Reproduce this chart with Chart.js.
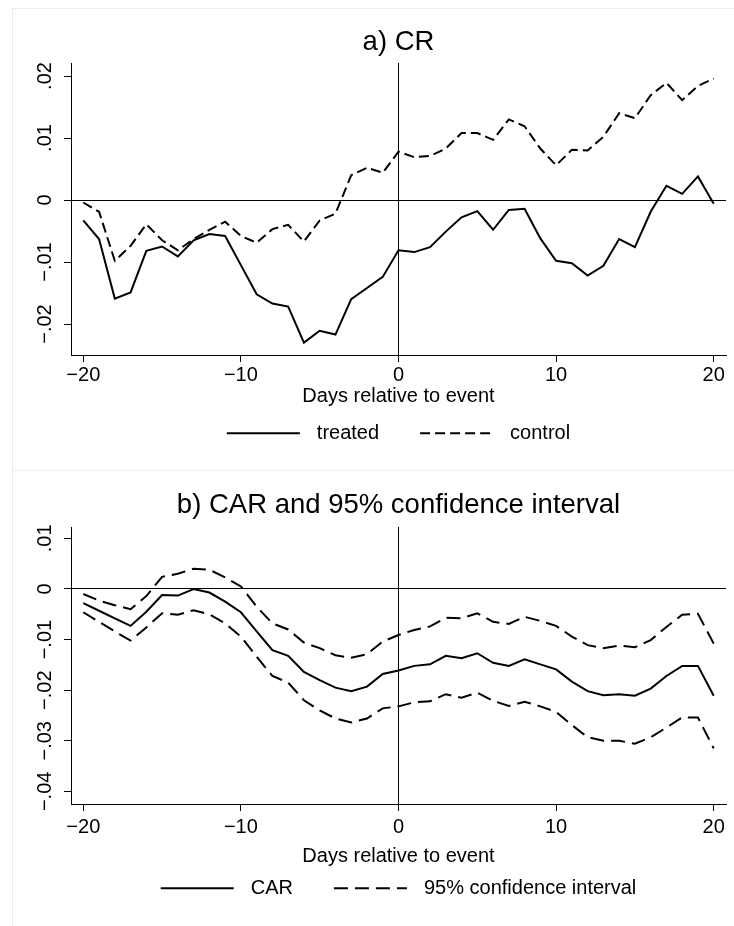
<!DOCTYPE html>
<html>
<head>
<meta charset="utf-8">
<script src="https://cdn.jsdelivr.net/npm/chart.js@4.4.0/dist/chart.umd.min.js"></script>
<style>
  html, body { margin: 0; padding: 0; background: #fff; }
  body { width: 734px; height: 926px; position: relative; overflow: hidden; }
  .frame { position: absolute; border: 1px solid #e5eef1; box-sizing: border-box; }
  .wrap { position: absolute; left: 0; width: 734px; }
  canvas { display: block; }
</style>
</head>
<body>
<div class="frame" style="left:12px; top:8px; width:760px; height:463px;"></div>
<div class="frame" style="left:12px; top:470px; width:760px; height:480px;"></div>
<div class="wrap" style="top:0; height:470px;"><canvas id="chartA"></canvas></div>
<div class="wrap" style="top:470px; height:456px;"><canvas id="chartB"></canvas></div>
<script>
// days relative to event
const days = [-20, -19, -18, -17, -16, -15, -14, -13, -12, -11, -10, -9, -8, -7, -6, -5, -4, -3, -2, -1,
  0, 1, 2, 3, 4, 5, 6, 7, 8, 9, 10, 11, 12, 13, 14, 15, 16, 17, 18, 19, 20]

// a) CR
const treated = [-0.0033, -0.0063, -0.0159, -0.0149, -0.0082, -0.0075, -0.0091, -0.0065, -0.0055, -0.0058,
  -0.0105, -0.0152, -0.0167, -0.0172, -0.0230, -0.0211, -0.0217, -0.0160, -0.0142, -0.0124,
  -0.0081, -0.0084, -0.0076, -0.0051, -0.0028, -0.0018, -0.0048, -0.0016, -0.0014, -0.0062,
  -0.0098, -0.0102, -0.0122, -0.0106, -0.0063, -0.0076, -0.0019, 0.0023, 0.0010, 0.0038, -0.0006]
const control = [-0.0004, -0.0019, -0.0098, -0.0074, -0.0039, -0.0065, -0.0081, -0.0063, -0.0048, -0.0035,
  -0.0058, -0.0069, -0.0047, -0.0040, -0.0067, -0.0033, -0.0022, 0.0040, 0.0052, 0.0044,
  0.0078, 0.0069, 0.0071, 0.0083, 0.0108, 0.0108, 0.0097, 0.0130, 0.0119, 0.0083,
  0.0056, 0.0081, 0.0080, 0.0102, 0.0140, 0.0132, 0.0169, 0.0189, 0.0161, 0.0184, 0.0196]

// b) CAR and 95% confidence interval
const car = [-0.0028, -0.0043, -0.0058, -0.0073, -0.0045, -0.0012, -0.0013, 0.0000, -0.0007, -0.0025,
  -0.0046, -0.0084, -0.0121, -0.0132, -0.0164, -0.0180, -0.0195, -0.0202, -0.0193, -0.0168,
  -0.0161, -0.0152, -0.0149, -0.0132, -0.0137, -0.0127, -0.0146, -0.0152, -0.0139, -0.0149,
  -0.0159, -0.0183, -0.0202, -0.0210, -0.0208, -0.0211, -0.0197, -0.0172, -0.0152, -0.0152, -0.0211]
const ciUpper = [-0.0010, -0.0023, -0.0032, -0.0040, -0.0014, 0.0024, 0.0030, 0.0040, 0.0038, 0.0023,
  0.0005, -0.0035, -0.0068, -0.0080, -0.0106, -0.0117, -0.0131, -0.0136, -0.0129, -0.0104,
  -0.0091, -0.0081, -0.0074, -0.0057, -0.0058, -0.0048, -0.0065, -0.0069, -0.0055, -0.0063,
  -0.0073, -0.0094, -0.0111, -0.0117, -0.0112, -0.0115, -0.0101, -0.0075, -0.0051, -0.0049, -0.0108]
const ciLower = [-0.0046, -0.0065, -0.0084, -0.0102, -0.0076, -0.0048, -0.0051, -0.0042, -0.0050, -0.0068,
  -0.0094, -0.0134, -0.0172, -0.0185, -0.0220, -0.0240, -0.0256, -0.0264, -0.0256, -0.0236,
  -0.0232, -0.0224, -0.0222, -0.0208, -0.0215, -0.0205, -0.0221, -0.0231, -0.0223, -0.0232,
  -0.0243, -0.0269, -0.0293, -0.0300, -0.0300, -0.0306, -0.0293, -0.0274, -0.0254, -0.0254, -0.0315]

// tick labels
const xTicks = [-20, -10, 0, 10, 20]
const xTickLabels = ['\u221220', '\u221210', '0', '10', '20']
const yTicksA = [0.02, 0.01, 0, -0.01, -0.02]
const yTickLabelsA = ['.02', '.01', '0', '\u2212.01', '\u2212.02']
const yTicksB = [0.01, 0, -0.01, -0.02, -0.03, -0.04]
const yTickLabelsB = ['.01', '0', '\u2212.01', '\u2212.02', '\u2212.03', '\u2212.04']

const fontFamily = "'Liberation Sans', Arial, Helvetica, sans-serif"
Chart.defaults.font.family = fontFamily
Chart.defaults.color = '#000'

// y tick labels are drawn rotated, reading upwards
const rotatedYLabels = {
    id: 'rotatedYLabels',
    afterDraw(chart, args, opts) {
        const scale = chart.scales.y
        const ctx = chart.ctx
        ctx.save()
        ctx.font = opts.size + 'px ' + fontFamily
        ctx.fillStyle = '#000'
        ctx.textAlign = 'center'
        ctx.textBaseline = 'middle'
        scale.ticks.forEach((t) => {
            ctx.save()
            ctx.translate(opts.x, scale.getPixelForValue(t.value))
            ctx.rotate(-Math.PI / 2)
            ctx.fillText(t.label, 0, 0)
            ctx.restore()
        })
        ctx.restore()
    }
}

// legend with long line samples, one entry per label
const lineLegend = {
    id: 'lineLegend',
    afterDraw(chart, args, opts) {
        const ctx = chart.ctx
        const seen = new Set()
        const items = chart.data.datasets.filter(d => d.label && !seen.has(d.label) && seen.add(d.label))
        ctx.save()
        ctx.font = opts.size + 'px ' + fontFamily
        const widths = items.map(d => opts.lineLength + opts.textGap + ctx.measureText(d.label).width)
        const total = widths.reduce((a, b) => a + b, 0) + opts.itemGap * (items.length - 1)
        let x = (chart.chartArea.left + chart.chartArea.right) / 2 - total / 2
        const y = opts.y
        items.forEach((d, i) => {
            ctx.beginPath()
            ctx.setLineDash(d.borderDash || [])
            ctx.lineWidth = d.borderWidth
            ctx.strokeStyle = d.borderColor
            ctx.moveTo(x, y)
            ctx.lineTo(x + opts.lineLength, y)
            ctx.stroke()
            ctx.setLineDash([])
            ctx.fillStyle = '#000'
            ctx.textAlign = 'left'
            ctx.textBaseline = 'middle'
            ctx.fillText(d.label, x + opts.lineLength + opts.textGap, y)
            x += widths[i] + opts.itemGap
        })
        ctx.restore()
    }
}

const zeroGrid = {
    color: c => (c.tick && c.tick.value === 0) ? '#000' : 'rgba(0,0,0,0)',
    tickColor: '#000',
    tickLength: 7,
    lineWidth: 1
}

function makeChart(id, datasets, s) {
    return new Chart(document.getElementById(id), {
        type: 'line',
        data: { labels: days, datasets: datasets },
        options: {
            responsive: true,
            maintainAspectRatio: false,
            animation: false,
            layout: { padding: { left: 0, right: 8, top: 0, bottom: s.padBottom } },
            elements: { point: { radius: 0 }, line: { tension: 0 } },
            plugins: {
                legend: { display: false },
                tooltip: { enabled: false },
                title: {
                    display: true,
                    text: s.title,
                    fullSize: false,
                    color: '#000',
                    font: { size: 27.5, weight: 'normal', lineHeight: 1.2 },
                    padding: { top: s.titleTop, bottom: s.titleBottom }
                },
                rotatedYLabels: { x: 45, size: 20 },
                lineLegend: { y: s.legendY, size: 20, lineLength: 73, textGap: 17, itemGap: 41 }
            },
            scales: {
                x: {
                    type: 'linear',
                    min: -20.78,
                    max: 20.78,
                    afterBuildTicks: sc => { sc.ticks = xTicks.map(v => ({ value: v })) },
                    afterFit: sc => { sc.height = s.xHeight },
                    ticks: {
                        callback: v => xTickLabels[xTicks.indexOf(v)],
                        font: { size: 20 },
                        padding: s.tickPad,
                        maxRotation: 0,
                        autoSkip: false
                    },
                    grid: zeroGrid,
                    border: { display: true, color: '#000', width: 1 },
                    title: {
                        display: true,
                        text: 'Days relative to event',
                        font: { size: 20, lineHeight: 1.2 },
                        padding: 0
                    }
                },
                y: {
                    min: s.yMin,
                    max: s.yMax,
                    afterBuildTicks: sc => { sc.ticks = s.yTicks.map(v => ({ value: v })) },
                    afterFit: sc => { sc.width = 71 },
                    ticks: {
                        display: false,
                        callback: v => s.yLabels[s.yTicks.indexOf(v)]
                    },
                    grid: zeroGrid,
                    border: { display: true, color: '#000', width: 1 }
                }
            }
        },
        plugins: [rotatedYLabels, lineLegend]
    })
}

makeChart('chartA', [
    { label: 'treated', data: treated, borderColor: '#000', borderWidth: 2 },
    { label: 'control', data: control, borderColor: '#000', borderWidth: 2, borderDash: [10, 5] }
], {
    title: 'a) CR',
    titleTop: 26, titleBottom: 4,
    padBottom: 61.7, xHeight: 53.3, tickPad: 1,
    legendY: 433.3,
    yMin: -0.025, yMax: 0.0221,
    yTicks: yTicksA, yLabels: yTickLabelsA
})

makeChart('chartB', [
    { label: 'CAR', data: car, borderColor: '#000', borderWidth: 2 },
    { label: '95% confidence interval', data: ciUpper, borderColor: '#000', borderWidth: 2, borderDash: [14, 7] },
    { label: '95% confidence interval', data: ciLower, borderColor: '#000', borderWidth: 2, borderDash: [14, 7] }
], {
    title: 'b) CAR and 95% confidence interval',
    titleTop: 19.2, titleBottom: 4.8,
    padBottom: 57.7, xHeight: 64.3, tickPad: 4,
    legendY: 418.3,
    yMin: -0.0425, yMax: 0.01225,
    yTicks: yTicksB, yLabels: yTickLabelsB
})
</script>
</body>
</html>
